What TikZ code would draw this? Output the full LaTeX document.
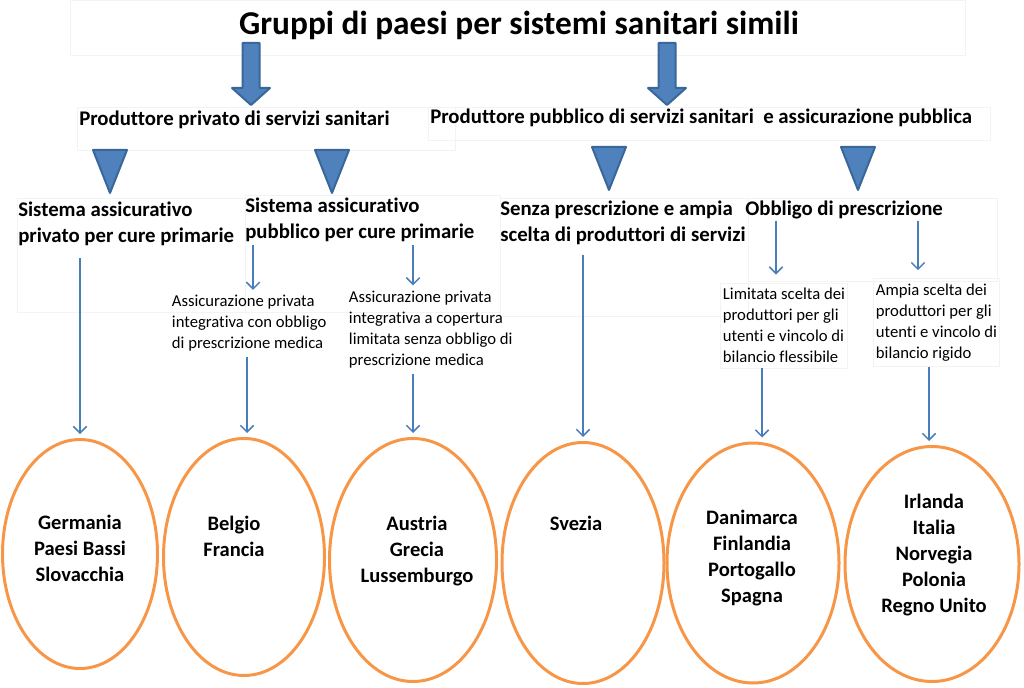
\documentclass[tikz,border=0pt]{standalone}
\usepackage{fontspec}
\setmainfont{Carlito}[Ligatures=NoCommon]
\usetikzlibrary{shapes.geometric,arrows.meta}
\definecolor{linkblue}{HTML}{4A7EBB}
\definecolor{arrowfill}{HTML}{4F81BD}
\definecolor{arrowline}{HTML}{3A679A}
\definecolor{ovalorange}{HTML}{F79646}
\definecolor{faint}{HTML}{F3F3F3}

\begin{document}
\begin{tikzpicture}[x=0.75pt,y=-0.75pt,
  title/.style={font=\fontsize{25}{30}\selectfont\bfseries,inner sep=0pt},
  head/.style={font=\fontsize{15.6}{19.5}\selectfont\bfseries,inner sep=0pt,align=left,anchor=west},
  note/.style={font=\fontsize{12.5}{15.75}\selectfont,inner xsep=2pt,inner ysep=4pt,align=left,anchor=west},
  oval/.style={ellipse,draw=ovalorange,line width=2.25pt,inner sep=0pt},
  country/.style={font=\fontsize{15.4}{19.5}\selectfont\bfseries,align=center,inner sep=0pt},
  link/.style={draw=linkblue,line width=1.1pt,-{Straight Barb[length=5pt,width=10pt]}},
  fat/.style={fill=arrowfill,draw=arrowline,line width=1.5pt,line join=round},
  frame/.style={draw=faint,line width=0.5pt}]
\useasboundingbox (0,0) rectangle (1024,688);

% faint text frames
\draw[frame] (70,0) rectangle (965,55);
\draw[frame] (77,107) rectangle (455,150);
\draw[frame] (428,107) rectangle (990,140);
\draw[frame] (17,198) rectangle (245,312);
\draw[frame] (245,195) rectangle (500,312);
\draw[frame] (500,198) rectangle (748,316);
\draw[frame] (748,198) rectangle (997,281);

% block arrows and triangles
\foreach \x in {251,667}
  \draw[fat] (\x-8.5,43) -- (\x+8.5,43) -- (\x+8.5,88) -- (\x+19,88) -- (\x,105) -- (\x-19,88) -- (\x-8.5,88) -- cycle;
\foreach \x/\y in {110/150,332/150,609/147,858/147}
  \draw[fat] (\x-17,\y) -- (\x+17,\y) -- (\x,\y+43) -- cycle;

\node[title] (ttl) at (519,25) {Gruppi di paesi per sistemi sanitari simili};
\node[head] (priv) at (79,120) {Produttore privato di servizi sanitari};
\node[head] (pubb) at (430,118) {Produttore pubblico di servizi sanitari\ \ e assicurazione pubblica};

\node[head] (sap) at (18,224) {Sistema assicurativo\\privato per cure primarie};
\node[head] (spu) at (245,220) {Sistema assicurativo\\pubblico per cure primarie};
\node[head] (senza) at (500,223) {Senza prescrizione e ampia\\scelta di produttori di servizi};
\node[head] (obb) at (745,210) {Obbligo di prescrizione};

\node[note] (conobb) at (169,323.5) {Assicurazione privata\\integrativa con obbligo\\di prescrizione medica};
\node[note] (limcop) at (346,329.5) {Assicurazione privata\\integrativa a copertura\\limitata senza obbligo di\\prescrizione medica};
\node[note,draw=faint] (limsc) at (720,325.5) {Limitata scelta dei\\produttori per gli\\utenti e vincolo di\\bilancio flessibile};
\node[note,draw=faint] (ampsc) at (873,322.5) {Ampia scelta dei\\produttori per gli\\utenti e vincolo di\\bilancio rigido};

% country groups
\node[oval,minimum width=116.25pt,minimum height=171.75pt] (e1) at (80,554) {};
\node[oval,minimum width=120.75pt,minimum height=177.75pt] (e2) at (244,557) {};
\node[oval,minimum width=125.25pt,minimum height=182.25pt] (e3) at (413,560) {};
\node[oval,minimum width=121.5pt,minimum height=180.75pt] (e4) at (583,563) {};
\node[oval,minimum width=129pt,minimum height=180pt] (e5) at (753,563) {};
\node[oval,minimum width=130.5pt,minimum height=176.25pt] (e6) at (932,564) {};

\node[country] (g1) at (80,548) {Germania\\Paesi Bassi\\Slovacchia};
\node[country] (g2) at (234,536) {Belgio\\Francia};
\node[country] (g3) at (417,551) {Austria\\Grecia\\Lussemburgo};
\node[country] (g4) at (576,523) {Svezia};
\node[country] (g5) at (752,558) {Danimarca\\Finlandia\\Portogallo\\Spagna};
\node[country] (g6) at (934,555) {Irlanda\\Italia\\Norvegia\\Polonia\\Regno Unito};

% connectors
\coordinate (k2) at (253,0);
\coordinate (k3) at (247,0);
\coordinate (k5) at (776,0);
\coordinate (k6) at (762,0);
\coordinate (k7) at (918,0);
\coordinate (k8) at (929,0);
\draw[link,shorten <=9pt,shorten >=3pt] (sap.south -| e1.north) -- (e1.north);
\draw[link,shorten <=2pt] (spu.south -| k2) -- (conobb.north -| k2);
\draw[link,shorten >=3pt] (conobb.south -| k3) -- (e2.north -| k3);
\draw[link,shorten <=2pt] (spu.south -| e3.north) -- (limcop.north -| e3.north);
\draw[link,shorten >=3pt] (limcop.south -| e3.north) -- (e3.north);
\draw[link,shorten <=7pt,shorten >=3pt] (senza.south -| e4.north) -- (e4.north);
\draw[link,shorten <=1pt,shorten >=6pt] (obb.south -| k5) -- (limsc.north -| k5);
\draw[link,shorten >=3pt] (limsc.south -| k6) -- (e5.north -| k6);
\draw[link,shorten <=1pt,shorten >=6pt] (obb.south -| k7) -- (ampsc.north -| k7);
\draw[link,shorten >=3pt] (ampsc.south -| k8) -- (e6.north -| k8);
\end{tikzpicture}
\end{document}
